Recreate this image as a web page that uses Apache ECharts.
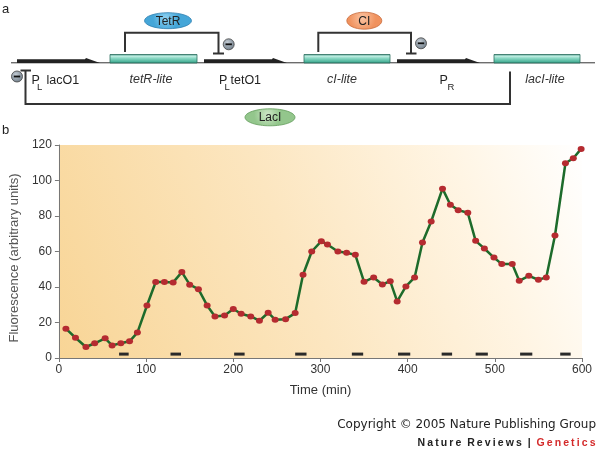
<!DOCTYPE html>
<html><head><meta charset="utf-8">
<script src="https://cdn.jsdelivr.net/npm/echarts@6/dist/echarts.min.js"></script>
<style>html,body{margin:0;padding:0;background:#fff}#c{width:600px;height:451px}</style>
</head><body><div id="c"></div>
<script>
// ---- data ----
const times = [8, 19, 31, 41, 53, 61, 71, 81, 90, 101, 111, 121, 131, 141, 150, 160, 170, 179, 190, 200,
  209, 220, 230, 240, 248, 260, 271, 280, 290, 301, 308, 320, 330, 340, 350, 361, 371, 380, 388, 398,
  408, 417, 427, 440, 449, 458, 469, 478, 488, 499, 508, 520, 528, 539, 550, 559, 569, 581, 590, 599];
const fluorescence = [16.5, 11.4, 6.2, 8.3, 11.1, 7.1, 8.3, 9.4, 14.3, 29.6, 42.8, 42.8, 42.6, 48.4, 41.3, 38.8, 29.6, 23.4, 24, 27.6,
  24.9, 23.4, 21, 25.5, 21.6, 21.9, 25.3, 46.9, 60, 65.8, 63.9, 60, 59.3, 58.1, 42.9, 45.4, 41.4, 43.3, 31.9, 40.3,
  45.4, 65.1, 76.9, 95.4, 86.3, 83.3, 81.8, 66, 61.7, 56.6, 52.9, 52.9, 43.5, 46.3, 44.1, 45.4, 69, 109.7, 112.5, 117.8];
const pulseStart = [69, 128, 201, 271, 336, 389, 439, 478, 529, 575];
const pulseEnd   = [80, 140, 213, 284, 349, 403, 451, 492, 543, 587];
const pulseLevel = 2.2;
const xTicks = [0, 100, 200, 300, 400, 500, 600];
const yTicks = [0, 20, 40, 60, 80, 100, 120];

// ---- diagram (panel a) ----
const DK = '#333';
const FF = 'Arial, "Liberation Sans", sans-serif';
const g = [];
function line(pts, w) { g.push({type:'polyline', shape:{points:pts}, style:{stroke:DK, lineWidth:w||2, fill:null}, z:10}); }
function txt(x, y, s, opt) { g.push({type:'text', x:x, y:y, style:Object.assign({text:s, fill:'#222', font:'12.5px ' + FF, textVerticalAlign:'bottom'}, opt||{}), z:20}); }
function gene(x0, x1) {
  g.push({type:'rect', shape:{x:x0, y:54.5, width:x1-x0, height:8.5},
    style:{fill:new echarts.graphic.LinearGradient(0,0,0,1,[{offset:0,color:'#2d8a78'},{offset:0.22,color:'#c2eee3'},{offset:0.45,color:'#8ad8c4'},{offset:0.8,color:'#4fb59c'},{offset:1,color:'#26806c'}]), stroke:'#2f6f60', lineWidth:0.8}, z:12});
}
function promoter(x0, x1) {
  g.push({type:'polygon', shape:{points:[[x0,63],[x0,59.3],[x1-15,59.3],[x1-14,58],[x1,63]]}, style:{fill:'#222'}, z:12});
}
function minus(cx, cy) {
  g.push({type:'circle', shape:{cx:cx, cy:cy, r:5.5}, style:{fill:new echarts.graphic.RadialGradient(0.4,0.35,0.7,[{offset:0,color:'#c4ccd4'},{offset:1,color:'#6c7a86'}]), stroke:'#444', lineWidth:0.8}, z:15});
  g.push({type:'line', shape:{x1:cx-3.2, y1:cy, x2:cx+3.2, y2:cy}, style:{stroke:'#111', lineWidth:1.8}, z:16});
}
function protein(cx, cy, rx, ry, c1, c2, stroke, label) {
  g.push({type:'ellipse', shape:{cx:cx, cy:cy, rx:rx, ry:ry}, style:{fill:new echarts.graphic.RadialGradient(0.45,0.35,0.75,[{offset:0,color:c1},{offset:1,color:c2}]), stroke:stroke, lineWidth:0.8}, z:15});
  g.push({type:'text', x:cx, y:cy+0.5, style:{text:label, fill:'#222', font:'12px ' + FF, textAlign:'center', textVerticalAlign:'middle'}, z:16});
}
// baseline
g.push({type:'line', shape:{x1:11, y1:62.8, x2:595, y2:62.8}, style:{stroke:DK, lineWidth:1}, z:11});
promoter(17, 100); promoter(204, 287); promoter(397, 480);
gene(110, 197); gene(304, 390); gene(494, 580);
// TetR bracket
line([[125,52],[125,32.7],[218.5,32.7],[218.5,53.5]]);
line([[213,53.5],[224,53.5]]);
minus(228.7, 44.3);
protein(168, 20.7, 23.5, 8, '#8fd2f2', '#45a6d8', '#2f7fb0', 'TetR');
// CI bracket
line([[318.3,52],[318.3,32.7],[411,32.7],[411,53.5]]);
line([[406,53.5],[416.5,53.5]]);
minus(421, 43.3);
protein(364.3, 20.7, 17.5, 8.5, '#fbc4a2', '#f0925e', '#c86a3a', 'CI');
// LacI loop
line([[510,71.5],[510,104],[25.5,104],[25.5,70.5]]);
line([[20.5,70.5],[31,70.5]]);
minus(17, 76.5);
protein(270, 117.3, 25, 8.5, '#cfe8c8', '#93c68c', '#5f9a58', 'LacI');
// labels
const SUB = {font:'9.5px ' + FF};
txt(2, 16, 'a', {font:'13px ' + FF});
txt(2, 137, 'b', {font:'13px ' + FF});
txt(31.5, 87, 'P'); txt(37, 92, 'L', SUB); txt(46.5, 87, 'lacO1');
txt(219, 87, 'P'); txt(224.5, 92, 'L', SUB); txt(230.5, 87, 'tetO1');
txt(439.5, 87, 'P'); txt(447.5, 92, 'R', SUB);
const ital = {font:'italic 12.5px ' + FF, textAlign:'center', fill:'#333'};
txt(151, 86, 'tetR-lite', ital);
txt(342, 86, 'cI-lite', ital);
txt(545, 86, 'lacI-lite', ital);
// credits
g.push({type:'text', x:596, y:431, style:{text:'Copyright \u00a9 2005 Nature Publishing Group', fill:'#222', font:'12px "DejaVu Sans", Verdana, sans-serif', textAlign:'right', textVerticalAlign:'bottom'}});
const sp = s => s.split('').join('\u2009');
g.push({type:'text', x:595.5, y:448.5, style:{text:'{n|' + sp('Nature') + '\u00a0\u00a0' + sp('Reviews') + '\u00a0\u00a0|\u00a0\u00a0}{r|' + sp('Genetics') + '}', textAlign:'right', textVerticalAlign:'bottom',
  rich:{n:{fill:'#222', font:'bold 10.5px ' + FF}, r:{fill:'#d42a2a', font:'bold 10.5px ' + FF}}}});

const chart = echarts.init(document.getElementById('c'), null, {renderer:'canvas'});
const labelFont = {color:'#333', fontSize:12, fontFamily:FF};
chart.setOption({
  animation:false,
  grid:{left:57, right:18, top:145, bottom:93, show:true, borderWidth:0,
    backgroundColor:new echarts.graphic.LinearGradient(0,1,1,0,[{offset:0,color:'#f8d596'},{offset:0.45,color:'#fce6c0'},{offset:0.78,color:'#fff5e4'},{offset:1,color:'#ffffff'}])},
  xAxis:{type:'value', min:0, max:600, interval:100,
    name:'Time (min)', nameLocation:'middle', nameGap:26,
    nameTextStyle:{color:'#333', fontSize:13, fontFamily:FF},
    axisLine:{lineStyle:{color:'#777', width:1}}, axisTick:{show:true, length:4, lineStyle:{color:'#777'}},
    axisLabel:Object.assign({margin:6, formatter:v=>xTicks.includes(v)?String(v):''}, labelFont), splitLine:{show:false}},
  yAxis:{type:'value', min:0, max:120, interval:20,
    name:'Fluorescence (arbitrary units)', nameLocation:'middle', nameGap:31, nameRotate:90,
    nameTextStyle:{color:'#555', fontSize:13, fontFamily:FF, padding:[0, 13, 0, 0]},
    axisLine:{show:true, lineStyle:{color:'#777', width:1}}, axisTick:{show:true, length:4, lineStyle:{color:'#777'}},
    axisLabel:Object.assign({margin:7, formatter:v=>yTicks.includes(v)?String(v):''}, labelFont), splitLine:{show:false}},
  graphic:g,
  series:[
    {type:'custom', data:pulseStart.map((s,i)=>[s, pulseEnd[i], pulseLevel]), encode:{x:[0,1], y:2}, z:3,
      renderItem:function(params, api){
        const a = api.coord([api.value(0), api.value(2)]);
        const b = api.coord([api.value(1), api.value(2)]);
        return {type:'rect', shape:{x:a[0], y:a[1]-1.5, width:b[0]-a[0], height:3}, style:{fill:'#2a2a2a'}};
      }},
    {type:'line', data:times.map((t,i)=>[t, fluorescence[i]]), symbol:'circle', symbolSize:[7,6], showSymbol:true, z:4,
      lineStyle:{color:'#1d6b2b', width:2.5}, itemStyle:{color:'#b52b30', borderWidth:0}}
  ]
});
</script></body></html>
